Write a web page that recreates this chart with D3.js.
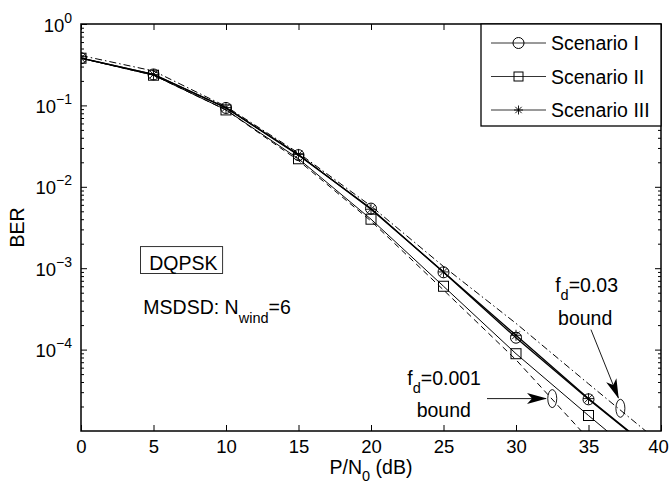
<!DOCTYPE html>
<html>
<head>
<meta charset="utf-8">
<script src="https://cdn.jsdelivr.net/npm/d3@7"></script>
<style>
  body { margin: 0; background: #fff; }
  svg { display: block; font-family: "Liberation Sans", Arial, Helvetica, sans-serif; }
  .axis path, .axis line { stroke: #000; }
  .axis text { fill: #000; }
</style>
</head>
<body>
<svg width="670" height="483"></svg>
<script>
// x values (dB) shared by every curve
var snr = [0, 5, 10, 15, 20, 25, 30, 35, 40];

// simulated BER, one array per scenario
var scenario1 = [0.38, 0.24, 0.093, 0.0245, 0.0054, 8.9e-4, 1.4e-4, 2.45e-5, 4.7e-6];
var scenario2 = [0.38, 0.235, 0.088, 0.0221, 0.0040, 6.0e-4, 8.9e-5, 1.55e-5, 2.8e-6];
var scenario3 = [0.38, 0.24, 0.094, 0.025, 0.0053, 9.0e-4, 1.5e-4, 2.5e-5, 4.8e-6];

// analytical bounds
var bound0001 = [0.38, 0.235, 0.088, 0.021, 0.0038, 5.4e-4, 7.5e-5, 8e-6, 7e-7];
var bound003 = [0.41, 0.265, 0.097, 0.026, 0.0058, 1.05e-3, 2.1e-4, 3.8e-5, 7e-6];

var xTicks = [0, 5, 10, 15, 20, 25, 30, 35, 40];
var yTicks = [1e0, 1e-1, 1e-2, 1e-3, 1e-4];
var legendNames = ["Scenario I", "Scenario II", "Scenario III"];

var svg = d3.select("svg"),
    margin = {top: 24, right: 9, bottom: 52, left: 81},
    width = svg.attr("width") - margin.left - margin.right,
    height = svg.attr("height") - margin.top - margin.bottom;

var g = svg.append("g").attr("transform", "translate(" + margin.left + "," + margin.top + ")");

var x = d3.scaleLinear().domain([0, 40]).range([0, width]),
    y = d3.scaleLog().domain([1e-5, 1]).range([height, 0]);

// minor ticks of the log axis
var yMinor = [];
[-5, -4, -3, -2, -1].forEach(function(e) {
    for (var k = 2; k <= 9; k++) yMinor.push(k * Math.pow(10, e));
});

g.append("defs").append("clipPath").attr("id", "clip")
  .append("rect").attr("width", width).attr("height", height);

// --- axes (ticks point inwards, on all four sides)
g.append("g").attr("class", "axis")
    .attr("transform", "translate(0," + height + ")")
    .call(d3.axisBottom(x).tickValues(xTicks).tickSize(-6).tickPadding(8))
    .call(function(a) {
        a.selectAll("text").style("font-size", "18.5px").attr("dy", "0.75em")
            .attr("dx", function(d) { return d === 40 ? -3 : 0; });
        a.select(".domain").remove();
    });

g.append("g").attr("class", "axis")
    .call(d3.axisTop(x).tickValues(xTicks).tickSize(-6).tickFormat(""))
    .call(function(a) { a.select(".domain").remove(); });

var yl = g.append("g").attr("class", "axis")
    .call(d3.axisLeft(y).tickValues(yTicks).tickSize(-6).tickFormat(""))
    .call(function(a) { a.select(".domain").remove(); });

yl.selectAll(".tick").append("text")
    .attr("x", -9)
    .attr("y", 7)
    .style("font-size", "18.5px")
    .attr("text-anchor", "end")
    .each(function(d) {
        var t = d3.select(this), e = Math.round(Math.log10(d));
        t.append("tspan").text("10");
        t.append("tspan").attr("dy", -9).style("font-size", "14px")
            .text(e === 0 ? "0" : "\u2212" + Math.abs(e));
    });

g.append("g").attr("class", "axis")
    .call(d3.axisLeft(y).tickValues(yMinor).tickSize(-3).tickFormat(""))
    .call(function(a) { a.select(".domain").remove(); });

g.append("g").attr("class", "axis")
    .attr("transform", "translate(" + width + ",0)")
    .call(d3.axisRight(y).tickValues(yTicks).tickSize(-6).tickFormat(""))
    .call(function(a) { a.select(".domain").remove(); });

g.append("g").attr("class", "axis")
    .attr("transform", "translate(" + width + ",0)")
    .call(d3.axisRight(y).tickValues(yMinor).tickSize(-3).tickFormat(""))
    .call(function(a) { a.select(".domain").remove(); });

// --- curves
var line = d3.line()
    .x(function(d) { return x(d[0]); })
    .y(function(d) { return y(d[1]); });

function pairs(vals) { return snr.map(function(s, i) { return [s, vals[i]]; }); }

var plot = g.append("g").attr("clip-path", "url(#clip)");

var curves = [
    {vals: bound0001, dash: "6,4", w: 1},
    {vals: bound003, dash: "7,3,1.5,3", w: 1},
    {vals: scenario2, dash: null, w: 1, marker: "square"},
    {vals: scenario1, dash: null, w: 1.3, marker: "circle"},
    {vals: scenario3, dash: null, w: 1.3, marker: "star"}
];

curves.forEach(function(c) {
    plot.append("path")
        .attr("d", line(pairs(c.vals)))
        .attr("fill", "none")
        .attr("stroke", "#000")
        .attr("stroke-width", c.w)
        .attr("stroke-dasharray", c.dash);
});

function drawMarker(sel, type, size) {
    if (type === "circle") {
        sel.append("circle").attr("r", size / 2).attr("fill", "none").attr("stroke", "#000");
    } else if (type === "square") {
        sel.append("rect").attr("x", -size / 2).attr("y", -size / 2)
            .attr("width", size).attr("height", size)
            .attr("fill", "none").attr("stroke", "#000");
    } else {
        var r = size / 2, p = "";
        [0, 45, 90, 135].forEach(function(a) {
            var dx = r * Math.cos(a * Math.PI / 180), dy = r * Math.sin(a * Math.PI / 180);
            p += "M" + (-dx) + "," + (-dy) + "L" + dx + "," + dy;
        });
        sel.append("path").attr("d", p).attr("stroke", "#000").attr("stroke-width", 0.9);
    }
}

curves.filter(function(c) { return c.marker; }).forEach(function(c) {
    plot.selectAll(null)
        .data(pairs(c.vals))
        .enter().append("g")
        .attr("transform", function(d) { return "translate(" + x(d[0]) + "," + y(d[1]) + ")"; })
        .each(function() { drawMarker(d3.select(this), c.marker, c.marker === "square" ? 10 : 11); });
});

// frame
g.append("rect").attr("width", width).attr("height", height)
    .attr("fill", "none").attr("stroke", "#000").attr("stroke-width", 1.5);

// --- legend
var legend = g.append("g").attr("transform", "translate(" + (width - 180) + ",0)");
legend.append("rect").attr("width", 180).attr("height", 102)
    .attr("fill", "#fff").attr("stroke", "#000").attr("stroke-width", 1.3);
var items = legend.selectAll(".item")
    .data(legendNames)
    .enter().append("g")
    .attr("transform", function(d, i) { return "translate(0," + (19 + i * 33.5) + ")"; });
items.append("line").attr("x1", 10).attr("x2", 65).attr("stroke", "#000").attr("stroke-width", 0.8);
items.each(function(d, i) {
    var m = d3.select(this).append("g").attr("transform", "translate(37.5,0)");
    drawMarker(m, ["circle", "square", "star"][i], i === 0 ? 11 : 9);
});
items.append("text").attr("x", 70).attr("dy", "0.36em")
    .style("font-size", "19.5px").text(function(d) { return d; });

// --- annotations
g.append("text").attr("x", x(4.7)).attr("y", y(9.6e-4)).style("font-size", "19.5px").text("DQPSK");
g.append("rect")
    .attr("x", x(4.1)).attr("y", y(1.84e-3))
    .attr("width", x(9.77) - x(4.1)).attr("height", y(8.6e-4) - y(1.84e-3))
    .attr("fill", "none").attr("stroke", "#000").attr("stroke-width", 0.8);

var ms = g.append("text").attr("x", x(4.3)).attr("y", y(2.7e-4)).style("font-size", "19.5px");
ms.append("tspan").text("MSDSD: N");
ms.append("tspan").attr("dy", 9).style("font-size", "14.5px").text("wind");
ms.append("tspan").attr("dy", -9).text("=6");

function fdLabel(xv, yv, val) {
    var t = g.append("text").attr("x", x(xv)).attr("y", y(yv)).style("font-size", "19.5px");
    t.append("tspan").text("f");
    t.append("tspan").attr("dy", 8).style("font-size", "14.5px").text("d");
    t.append("tspan").attr("dy", -8).text("=" + val);
}
fdLabel(22.5, 3.7e-5, "0.001");
g.append("text").attr("x", x(23.15)).attr("y", y(1.5e-5)).style("font-size", "19.5px").text("bound");
fdLabel(32.7, 5.1e-4, "0.03");
g.append("text").attr("x", x(32.9)).attr("y", y(2.0e-4)).style("font-size", "19.5px").text("bound");

g.append("defs").append("marker")
    .attr("id", "head").attr("markerUnits", "userSpaceOnUse")
    .attr("viewBox", "0 -7 20 14").attr("refX", 19).attr("refY", 0)
    .attr("markerWidth", 20).attr("markerHeight", 14).attr("orient", "auto")
  .append("path").attr("d", "M0,-5.5L20,0L0,5.5L5,0Z").attr("fill", "#000");

[[28, 2.5e-5, 32.07, 2.5e-5], [35.17, 1.76e-4, 37.06, 2.55e-5]].forEach(function(a) {
    g.append("line")
        .attr("x1", x(a[0])).attr("y1", y(a[1]))
        .attr("x2", x(a[2])).attr("y2", y(a[3]))
        .attr("stroke", "#000").attr("stroke-width", 0.9)
        .attr("marker-end", "url(#head)");
});

[[32.5, 2.5e-5], [37.2, 1.9e-5]].forEach(function(e) {
    g.append("ellipse").attr("cx", x(e[0])).attr("cy", y(e[1]))
        .attr("rx", 4.5).attr("ry", 9)
        .attr("fill", "none").attr("stroke", "#000").attr("stroke-width", 0.9);
});

// --- axis titles
svg.append("text")
    .attr("transform", "translate(24," + (margin.top + height / 2) + ") rotate(-90)")
    .attr("text-anchor", "middle")
    .style("font-size", "19.5px")
    .text("BER");

var xl = svg.append("text")
    .attr("x", margin.left + width / 2)
    .attr("y", 474)
    .attr("text-anchor", "middle")
    .style("font-size", "19.5px");
xl.append("tspan").text("P/N");
xl.append("tspan").attr("dy", 7).style("font-size", "14.5px").text("0");
xl.append("tspan").attr("dy", -7).text(" (dB)");
</script>
</body>
</html>
